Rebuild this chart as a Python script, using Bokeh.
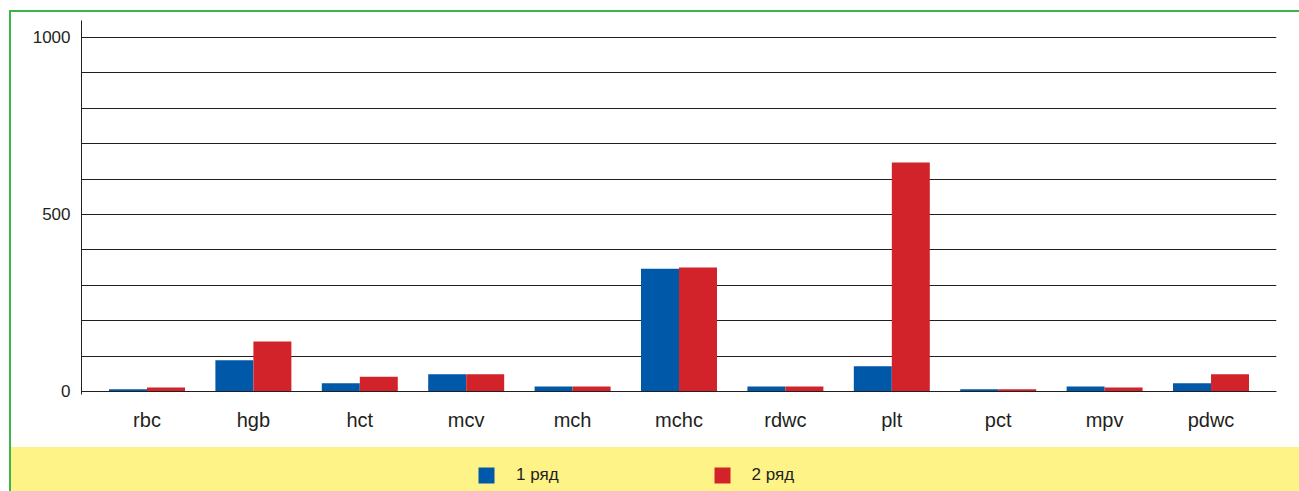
from bokeh.plotting import figure
from bokeh.models import (FactorRange, Range1d, FixedTicker, Legend, LegendItem,
                          ColumnDataSource)
from bokeh.transform import dodge
from bokeh.embed import file_html
from bokeh.resources import INLINE

categories = ["rbc", "hgb", "hct", "mcv", "mch", "mchc", "rdwc", "plt", "pct", "mpv", "pdwc"]
series1 = [6, 88, 23, 49, 14, 347, 14, 71, 6, 14, 23]
series2 = [11, 141, 42, 49, 14, 350, 14, 647, 6, 11, 49]
series_names = ["1 ряд", "2 ряд"]
y_ticks = [0, 500, 1000]
grid_ticks = [0, 100, 200, 300, 400, 500, 600, 700, 800, 900, 1000]

BLUE = "#0059a8"
RED = "#d2232a"
TEXT = "#231f20"
GREEN = "#3cb64b"
YELLOW = "#fef386"
FONT = "Liberation Sans"

src = ColumnDataSource(dict(cat=categories, s1=series1, s2=series2))

# page decoration (green frame lines and yellow legend band) drawn as CSS
# background of the plot element, visible through transparent fills
deco = {
    "background-color": "white",
    "background-image": (f"linear-gradient({GREEN},{GREEN}), "
                         f"linear-gradient({GREEN},{GREEN}), "
                         f"linear-gradient({YELLOW},{YELLOW})"),
    "background-size": "1290px 2px, 2px 481px, 1288px 44px",
    "background-position": "9px 10px, 9px 10px, 11px 447px",
    "background-repeat": "no-repeat",
}

p = figure(width=1299, height=491, output_backend="svg", toolbar_location=None,
           x_range=FactorRange(factors=categories, range_padding=0.021,
                               range_padding_units="percent"),
           y_range=Range1d(-282.5, 1048),
           min_border_left=81, min_border_right=23, min_border_top=20,
           min_border_bottom=0, styles=deco)
p.outline_line_color = None
p.background_fill_color = None
p.border_fill_color = None

r1 = p.vbar(x=dodge("cat", -0.1786, range=p.x_range), top="s1", width=0.357,
            source=src, fill_color=BLUE, line_color=None)
r2 = p.vbar(x=dodge("cat", 0.1786, range=p.x_range), top="s2", width=0.357,
            source=src, fill_color=RED, line_color=None)

# axes
p.yaxis.ticker = FixedTicker(ticks=y_ticks)
p.yaxis.bounds = (-8, 1048)
p.yaxis.major_tick_out = 0
p.yaxis.major_tick_in = 0
p.yaxis.minor_tick_out = 0
p.yaxis.minor_tick_in = 0
p.yaxis.major_label_standoff = 11
p.yaxis.axis_line_color = TEXT
p.yaxis.major_label_text_font = FONT
p.yaxis.major_label_text_font_size = "17px"
p.yaxis.major_label_text_color = TEXT

p.xaxis.fixed_location = 0
p.xaxis.major_tick_out = 0
p.xaxis.major_tick_in = 0
p.xaxis.major_label_standoff = 18
p.xaxis.axis_line_color = TEXT
p.xaxis.major_label_text_font = FONT
p.xaxis.major_label_text_font_size = "20px"
p.xaxis.major_label_text_color = TEXT

p.xgrid.grid_line_color = None
p.ygrid.ticker = FixedTicker(ticks=grid_ticks)
p.ygrid.grid_line_color = TEXT
p.ygrid.grid_line_width = 1

legend = Legend(items=[LegendItem(label=series_names[0], renderers=[r1]),
                       LegendItem(label=series_names[1], renderers=[r2])],
                orientation="horizontal", location=(395, 6),
                glyph_width=20, glyph_height=20, label_standoff=20,
                spacing=153, padding=0, margin=0,
                border_line_color=None, background_fill_alpha=0,
                label_text_font=FONT, label_text_font_size="17px",
                label_text_color=TEXT)
p.add_layout(legend, "center")

open("out.html", "w").write(file_html(p, INLINE))
